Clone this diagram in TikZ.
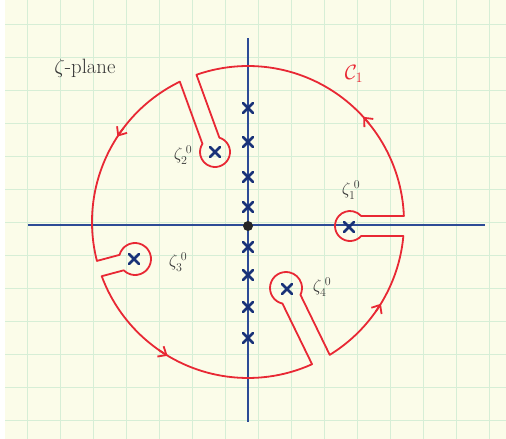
\documentclass[tikz,border=0pt]{standalone}
\usetikzlibrary{calc,arrows.meta}
\definecolor{paper}{RGB}{251,252,233}
\definecolor{gridc}{RGB}{214,238,214}
\definecolor{cred}{RGB}{232,40,52}
\definecolor{axisb}{RGB}{45,75,150}
\definecolor{poleb}{RGB}{25,50,120}
\definecolor{ink}{RGB}{55,55,55}
\begin{document}
\begin{tikzpicture}[x=1pt,y=1pt,
  contour/.style={cred, line width=1.8pt, line join=round, line cap=round},
  poleline/.style={poleb, line width=2.6pt, line cap=round},
  axisline/.style={axisb, line width=1.2pt},
  lab/.style={ink, font=\LARGE},
  xmark/.pic={\draw[poleline] (-5,-5) -- (5,5) (-5,5) -- (5,-5);},
  tipstyle/.style={contour, -{Straight Barb[length=7pt,width=12pt]}}]
\fill[white] (0,0) rectangle (506,-439);
\fill[paper] (5,0) rectangle (506,-439);
\useasboundingbox (0,0) rectangle (506,-439);
\foreach \x in {27,60,...,490} \draw[gridc, line width=0.8pt] (\x,0) -- (\x,-439);
\foreach \y in {24,57,...,439} \draw[gridc, line width=0.8pt] (5,-\y) -- (506,-\y);
% axes
\coordinate (xl) at (28,-225);
\coordinate (xr) at (485,-225);
\coordinate (yt) at (248,-38);
\coordinate (yb) at (248,-422);
\draw[axisline] (xl) -- (xr);
\draw[axisline] (yt) -- (yb);
% contour
\begin{scope}[shift={(248,-222)}]
\pgfmathsetmacro\aA{asin(10/15)}
\pgfmathsetmacro\aB{asin(9/15)}
\pgfmathsetmacro\aC{asin(8/16)}
\pgfmathsetmacro\aD{asin(10/16)}
% K1: P=(102,-4), th=0, w=10
\pgfmathsetmacro\mA{0+asin((-(102)*sin(0)+(-4)*cos(0)-10)/156)}
\pgfmathsetmacro\pA{0+asin((-(102)*sin(0)+(-4)*cos(0)+10)/156)}
% K2: P=(-33,70), th=110, w=9
\pgfmathsetmacro\mB{110+asin((-(-33)*sin(110)+(70)*cos(110)-9)/156)}
\pgfmathsetmacro\pB{110+asin((-(-33)*sin(110)+(70)*cos(110)+9)/156)}
% K3: P=(-113,-37), th=195, w=8
\pgfmathsetmacro\mC{195+asin((-(-113)*sin(195)+(-37)*cos(195)-8)/156)}
\pgfmathsetmacro\pC{195+asin((-(-113)*sin(195)+(-37)*cos(195)+8)/156)}
% K4: P=(38,-66), th=296, w=10
\pgfmathsetmacro\mD{296+asin((-(38)*sin(296)+(-66)*cos(296)-10)/156)}
\pgfmathsetmacro\pD{296+asin((-(38)*sin(296)+(-66)*cos(296)+10)/156)}
\coordinate (P1) at (102,-4);
\coordinate (P2) at (-33,70);
\coordinate (P3) at (-113,-37);
\coordinate (P4) at (38,-66);
\draw[contour] (\pA:156) arc[start angle=\pA, end angle=\mB, radius=156]
  -- ($(P2)+(110-\aB:15)$) arc[start angle=110-\aB, delta angle=-360+2*\aB, radius=15]
  -- (\pB:156) arc[start angle=\pB, end angle=\mC, radius=156]
  -- ($(P3)+(195-\aC:16)$) arc[start angle=195-\aC, delta angle=-360+2*\aC, radius=16]
  -- (\pC:156) arc[start angle=\pC, end angle=\mD, radius=156]
  -- ($(P4)+(296-\aD:16)$) arc[start angle=296-\aD, delta angle=-360+2*\aD, radius=16]
  -- (\pD:156) arc[start angle=\pD, end angle=\mA+360, radius=156]
  -- ($(P1)+(-\aA:15)$) arc[start angle=-\aA, delta angle=-360+2*\aA, radius=15]
  -- cycle;
\draw[tipstyle] (39:156) arc[start angle=39, end angle=42.4, radius=156];
\draw[tipstyle] (143:156) arc[start angle=143, end angle=146.8, radius=156];
\draw[tipstyle] (235:156) arc[start angle=235, end angle=239, radius=156];
\draw[tipstyle] (325:156) arc[start angle=325, end angle=328.4, radius=156];
\end{scope}
% poles on imaginary axis
\foreach \y in {108,142,177,207,247,275,307,338} \pic at (248,-\y) {xmark};
\fill[black!85] (248,-226) circle (5);
% keyhole poles
\pic at (349,-227) {xmark};
\pic at (215,-152) {xmark};
\pic at (134,-259) {xmark};
\pic at (287,-289) {xmark};
% labels
\node[ink, font=\huge] (plane) at (85,-68) {$\zeta$-plane};
\node[cred, font=\huge] (C1) at (354,-74) {$\mathcal{C}_1$};
\node[lab] (z1) at (351,-190) {$\zeta^{\;0}_{1}$};
\node[lab] (z2) at (183,-155) {$\zeta^{\;0}_{2}$};
\node[lab] (z3) at (178,-262) {$\zeta^{\;0}_{3}$};
\node[lab] (z4) at (322,-287) {$\zeta^{\;0}_{4}$};
\end{tikzpicture}
\end{document}
